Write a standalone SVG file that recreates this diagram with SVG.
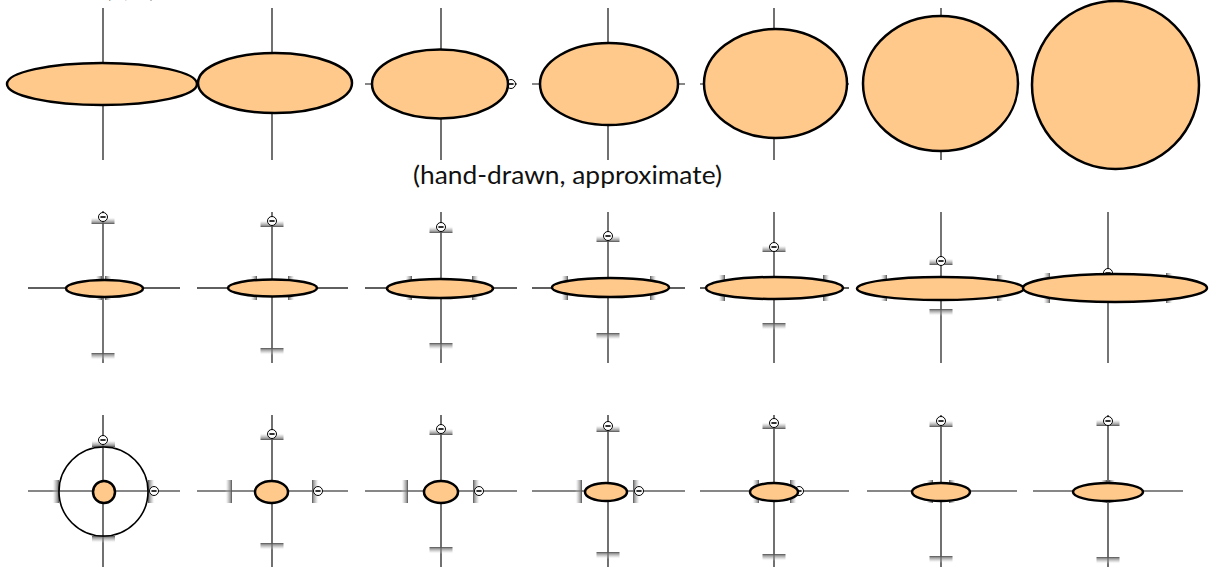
<svg xmlns="http://www.w3.org/2000/svg" xmlns:xlink="http://www.w3.org/1999/xlink" width="1219" height="569" viewBox="0 0 1219 569">
<style>
.ax{stroke:#111;stroke-width:1.2;fill:none}
.ax2{stroke:#2a2a2a;stroke-width:1.3;fill:none}
.el{fill:#FFC98B;stroke:#000;stroke-width:2.5}
.ring{fill:none;stroke:#000;stroke-width:1.6}
.bu{fill:url(#gUp)}
.bd{fill:url(#gDown)}
.bl{fill:url(#gLeft)}
.br{fill:url(#gRight)}
.cap{font-family:Lato,"Open Sans","Liberation Sans",sans-serif;font-size:25px;fill:#111}
</style>
<defs>
<linearGradient id="gUp" x1="0" y1="1" x2="0" y2="0">
<stop offset="0" stop-color="#444" stop-opacity="0.95"/>
<stop offset="0.2" stop-color="#777" stop-opacity="0.8"/>
<stop offset="0.6" stop-color="#aaa" stop-opacity="0.45"/>
<stop offset="1" stop-color="#fff" stop-opacity="0"/>
</linearGradient>
<linearGradient id="gDown" xlink:href="#gUp" x1="0" y1="0" x2="0" y2="1"/>
<linearGradient id="gLeft" xlink:href="#gUp" x1="1" y1="0" x2="0" y2="0"/>
<linearGradient id="gRight" xlink:href="#gUp" x1="0" y1="0" x2="1" y2="0"/>
<g id="m"><circle r="4.5" fill="#fff" stroke="#000" stroke-width="1"/><line x1="-2.6" y1="0" x2="2.6" y2="0" stroke="#000" stroke-width="1.6"/></g>
</defs>
<rect width="1219" height="569" fill="#fff"/>

<text class="cap" x="105" y="-3">(a, b)</text>
<text id="caption" class="cap" x="413" y="184" textLength="309" lengthAdjust="spacingAndGlyphs">(hand-drawn, approximate)</text>

<g id="connectors">
<!-- row 1 axes -->
<line class="ax" x1="103" y1="8" x2="103" y2="160"/>
<line class="ax" x1="272" y1="8" x2="272" y2="160"/>
<line class="ax" x1="441" y1="8" x2="441" y2="160"/>
<line class="ax" x1="365" y1="84" x2="517" y2="84"/>
<line class="ax" x1="608" y1="8" x2="608" y2="160"/>
<line class="ax" x1="532" y1="84" x2="685" y2="84"/>
<line class="ax" x1="774" y1="8" x2="774" y2="160"/>
<line class="ax" x1="700" y1="84" x2="849" y2="84"/>
<line class="ax" x1="941" y1="8" x2="941" y2="160"/>
<!-- row 2 axes -->
<line class="ax2" x1="103" y1="211" x2="103" y2="363"/>
<line class="ax2" x1="28" y1="288" x2="180" y2="288"/>
<line class="ax2" x1="272" y1="212" x2="272" y2="363"/>
<line class="ax2" x1="197" y1="288" x2="348" y2="288"/>
<line class="ax2" x1="441" y1="212" x2="441" y2="363"/>
<line class="ax2" x1="365" y1="288" x2="517" y2="288"/>
<line class="ax2" x1="608" y1="212" x2="608" y2="363"/>
<line class="ax2" x1="532" y1="288" x2="685" y2="288"/>
<line class="ax2" x1="774" y1="212" x2="774" y2="363"/>
<line class="ax2" x1="700" y1="288" x2="849" y2="288"/>
<line class="ax2" x1="941" y1="212" x2="941" y2="363"/>
<line class="ax2" x1="1108" y1="212" x2="1108" y2="363"/>
<!-- row 3 axes -->
<line class="ax" x1="103" y1="415" x2="103" y2="567"/>
<line class="ax" x1="28" y1="491" x2="180" y2="491"/>
<line class="ax" x1="272" y1="415" x2="272" y2="567"/>
<line class="ax" x1="197" y1="491" x2="348" y2="491"/>
<line class="ax" x1="441" y1="415" x2="441" y2="567"/>
<line class="ax" x1="365" y1="491" x2="517" y2="491"/>
<line class="ax" x1="608" y1="415" x2="608" y2="567"/>
<line class="ax" x1="532" y1="491" x2="685" y2="491"/>
<line class="ax" x1="774" y1="415" x2="774" y2="567"/>
<line class="ax" x1="700" y1="491" x2="849" y2="491"/>
<line class="ax" x1="941" y1="415" x2="941" y2="567"/>
<line class="ax" x1="867" y1="491" x2="1017" y2="491"/>
<line class="ax" x1="1108" y1="415" x2="1108" y2="567"/>
<line class="ax" x1="1033" y1="491" x2="1183" y2="491"/>
</g>

<!-- Row 1 -->
<g id="r1p1"><ellipse class="el" cx="102" cy="84" rx="95" ry="21"/></g>
<g id="r1p2"><ellipse class="el" cx="275" cy="83" rx="77" ry="30"/></g>
<g id="r1p3"><use xlink:href="#m" x="511" y="84"/><ellipse class="el" cx="440" cy="84" rx="68" ry="34.5"/></g>
<g id="r1p4"><ellipse class="el" cx="609" cy="84" rx="69" ry="41"/></g>
<g id="r1p5"><ellipse class="el" cx="775.5" cy="83.5" rx="71.5" ry="54.5"/></g>
<g id="r1p6"><ellipse class="el" cx="940.5" cy="83.5" rx="77.5" ry="67.5"/></g>
<g id="r1p7"><ellipse class="el" cx="1115.5" cy="85" rx="83.5" ry="84"/></g>

<!-- Row 2 -->
<g id="r2p1">
<rect class="bu" x="91.5" y="217" width="23" height="7"/>
<rect class="bd" x="91.5" y="353" width="23" height="7"/>
<rect class="bl" x="95" y="276" width="7" height="24"/>
<rect class="br" x="105" y="276" width="7" height="24"/>
<use xlink:href="#m" x="103" y="217"/>
<ellipse class="el" cx="104.5" cy="288.5" rx="38.5" ry="8.5"/>
</g>
<g id="r2p2">
<rect class="bu" x="260.5" y="220" width="23" height="7"/>
<rect class="bd" x="260.5" y="348" width="23" height="7"/>
<rect class="bl" x="250" y="276" width="7" height="24"/>
<rect class="br" x="288" y="276" width="7" height="24"/>
<use xlink:href="#m" x="272" y="221"/>
<ellipse class="el" cx="272.5" cy="288" rx="44.5" ry="8.5"/>
</g>
<g id="r2p3">
<rect class="bu" x="429.5" y="226" width="23" height="7"/>
<rect class="bd" x="429.5" y="343" width="23" height="7"/>
<rect class="bl" x="405" y="276" width="7" height="24"/>
<rect class="br" x="472" y="276" width="7" height="24"/>
<use xlink:href="#m" x="441" y="227"/>
<ellipse class="el" cx="440" cy="288.5" rx="53" ry="9.5"/>
</g>
<g id="r2p4">
<rect class="bu" x="596.5" y="235" width="23" height="7"/>
<rect class="bd" x="596.5" y="333" width="23" height="7"/>
<rect class="bl" x="561" y="276" width="7" height="24"/>
<rect class="br" x="650" y="276" width="7" height="24"/>
<use xlink:href="#m" x="608" y="236"/>
<ellipse class="el" cx="610.5" cy="287.5" rx="58.5" ry="9.5"/>
</g>
<g id="r2p5">
<rect class="bu" x="762.5" y="245" width="23" height="7"/>
<rect class="bd" x="762.5" y="323" width="23" height="7"/>
<rect class="bl" x="718" y="275" width="7" height="26"/>
<rect class="br" x="823" y="275" width="7" height="26"/>
<use xlink:href="#m" x="774" y="247"/>
<ellipse class="el" cx="774.5" cy="288" rx="68.5" ry="11"/>
</g>
<g id="r2p6">
<rect class="bu" x="929.5" y="258" width="23" height="7"/>
<rect class="bd" x="929.5" y="309" width="23" height="7"/>
<rect class="bl" x="880" y="275" width="7" height="26"/>
<rect class="br" x="997" y="275" width="7" height="26"/>
<use xlink:href="#m" x="941" y="261"/>
<ellipse class="el" cx="940.5" cy="288.5" rx="83.5" ry="11.5"/>
</g>
<g id="r2p7">
<rect class="bl" x="1043" y="273" width="7" height="30"/>
<rect class="br" x="1166" y="273" width="7" height="30"/>
<use xlink:href="#m" x="1108" y="273"/>
<ellipse class="el" cx="1115" cy="288" rx="92" ry="14"/>
</g>

<!-- Row 3 -->
<g id="r3p1">
<rect class="bu" x="92" y="440" width="23" height="7"/>
<rect class="bd" x="92" y="536" width="23" height="7"/>
<rect class="bl" x="52" y="480" width="7" height="23"/>
<rect class="br" x="148" y="480" width="7" height="23"/>
<circle class="ring" cx="103.5" cy="491.5" r="44.5"/>
<use xlink:href="#m" x="103" y="440"/>
<use xlink:href="#m" x="154" y="491"/>
<circle class="el" cx="104" cy="492" r="11"/>
</g>
<g id="r3p2">
<rect class="bu" x="260.5" y="433" width="23" height="7"/>
<rect class="bd" x="260.5" y="543" width="23" height="7"/>
<rect class="bl" x="225" y="480" width="7" height="23"/>
<rect class="br" x="312" y="480" width="7" height="23"/>
<use xlink:href="#m" x="272" y="434"/>
<use xlink:href="#m" x="318" y="491"/>
<ellipse class="el" cx="271.5" cy="492" rx="16.5" ry="11"/>
</g>
<g id="r3p3">
<rect class="bu" x="429.5" y="428" width="23" height="7"/>
<rect class="bd" x="429.5" y="547" width="23" height="7"/>
<rect class="bl" x="401" y="480" width="7" height="23"/>
<rect class="br" x="473" y="480" width="7" height="23"/>
<use xlink:href="#m" x="441" y="429"/>
<use xlink:href="#m" x="479" y="491"/>
<ellipse class="el" cx="441" cy="492" rx="17" ry="11"/>
</g>
<g id="r3p4">
<rect class="bu" x="596.5" y="425" width="23" height="7"/>
<rect class="bd" x="596.5" y="552" width="23" height="7"/>
<rect class="bl" x="575" y="480" width="7" height="23"/>
<rect class="br" x="633" y="480" width="7" height="23"/>
<use xlink:href="#m" x="608" y="426"/>
<use xlink:href="#m" x="639" y="491"/>
<ellipse class="el" cx="606" cy="492" rx="21" ry="9"/>
</g>
<g id="r3p5">
<rect class="bu" x="762.5" y="422" width="23" height="7"/>
<rect class="bd" x="762.5" y="554" width="23" height="7"/>
<rect class="bl" x="752" y="480" width="7" height="23"/>
<rect class="br" x="790" y="480" width="7" height="23"/>
<use xlink:href="#m" x="774" y="423"/>
<use xlink:href="#m" x="799" y="491"/>
<ellipse class="el" cx="774" cy="492" rx="24" ry="9"/>
</g>
<g id="r3p6">
<rect class="bu" x="929.5" y="420" width="23" height="7"/>
<rect class="bd" x="929.5" y="556" width="23" height="7"/>
<rect class="bl" x="926" y="480" width="7" height="23"/>
<rect class="br" x="949" y="480" width="7" height="23"/>
<use xlink:href="#m" x="941" y="421"/>
<ellipse class="el" cx="941" cy="492" rx="29" ry="9"/>
</g>
<g id="r3p7">
<rect class="bu" x="1096.5" y="419" width="23" height="7"/>
<rect class="bd" x="1096.5" y="557" width="23" height="7"/>
<rect class="bl" x="1100" y="480" width="7" height="23"/>
<rect class="br" x="1109" y="480" width="7" height="23"/>
<use xlink:href="#m" x="1108" y="421"/>
<ellipse class="el" cx="1108" cy="492" rx="35" ry="9"/>
</g>
</svg>
